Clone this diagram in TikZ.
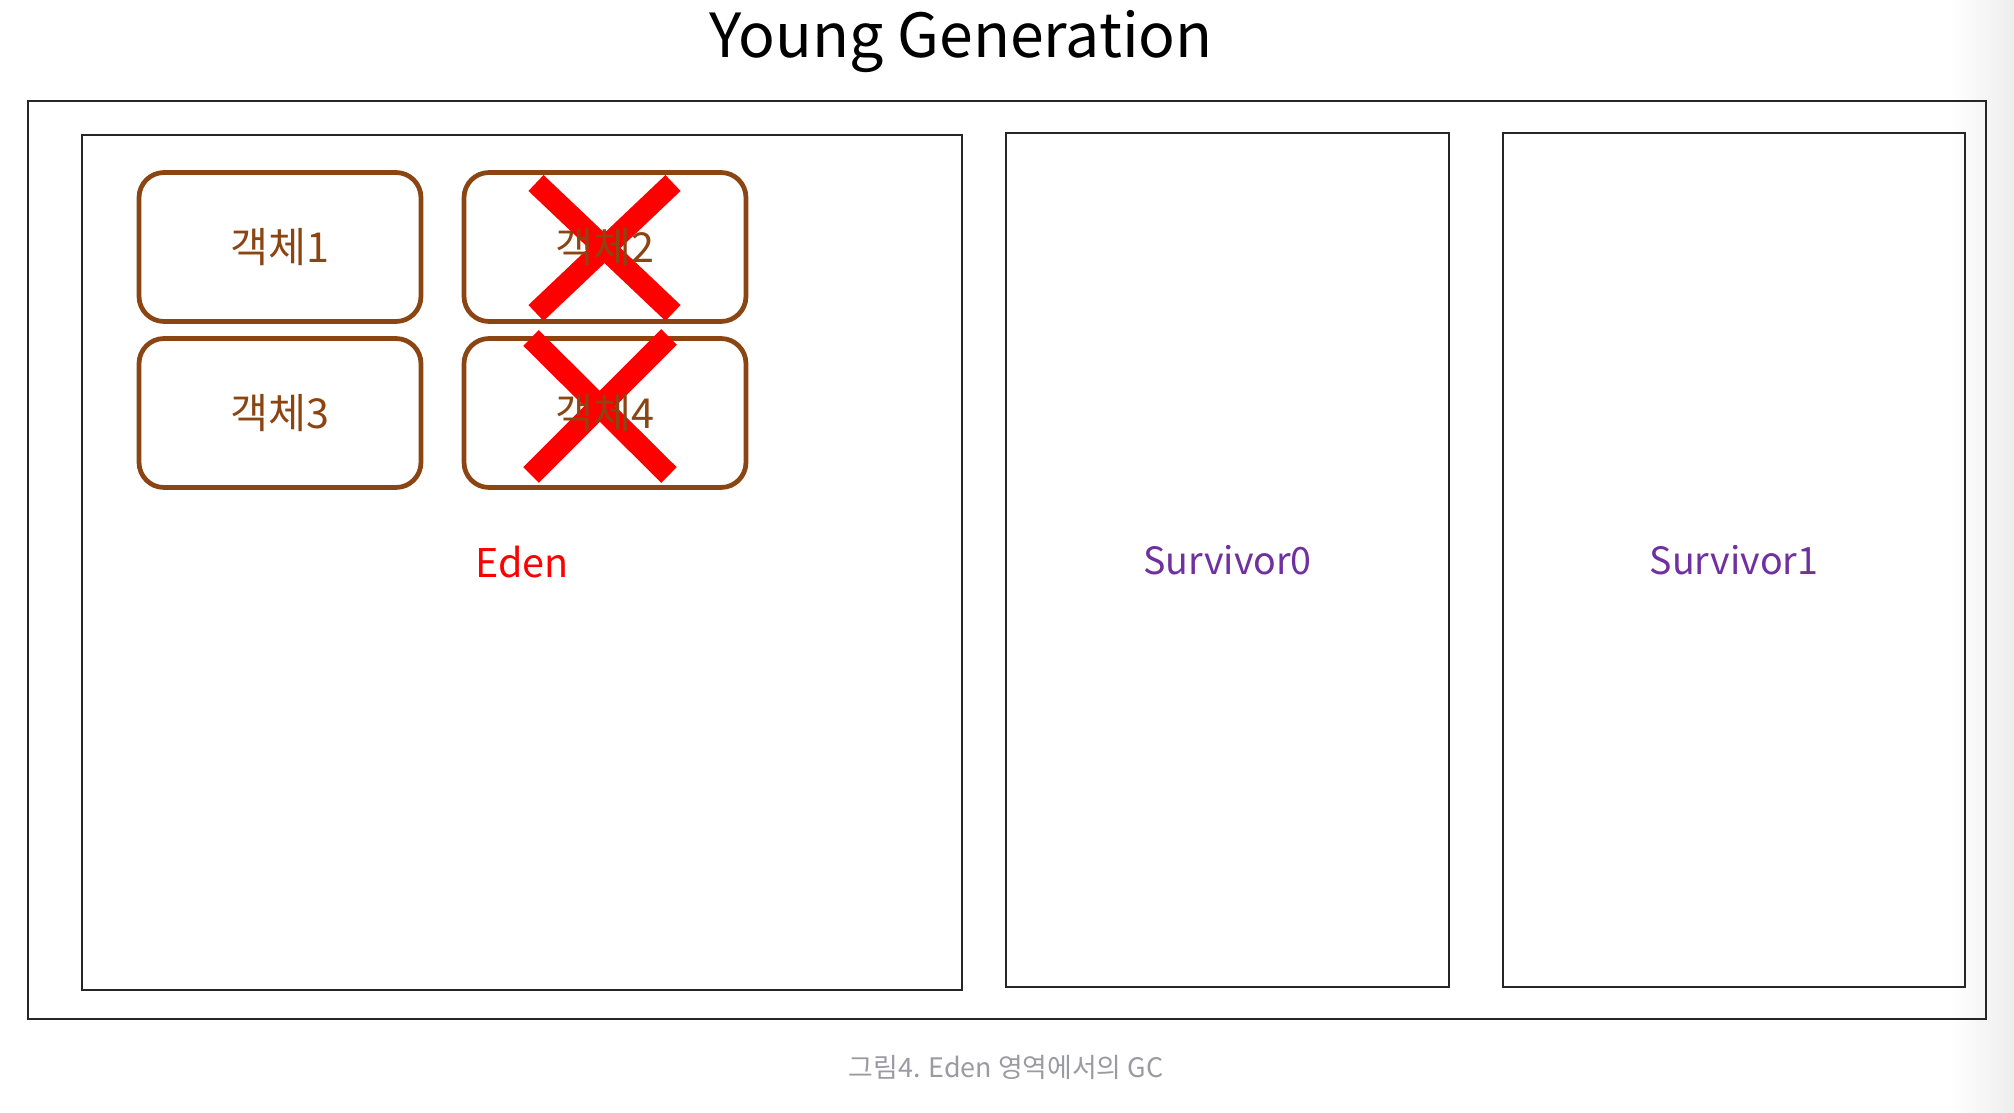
\documentclass[tikz,border=0pt]{standalone}
\usepackage{fontspec}
\setmainfont{Noto Sans CJK KR}
\usetikzlibrary{positioning, calc}
\usepackage{xcolor}
\definecolor{objbrown}{HTML}{8B4513}
\definecolor{survpurple}{HTML}{7030A0}
\definecolor{capgray}{HTML}{9A9AA2}

\tikzset{
  region/.style={draw=black!85, line width=1.1pt, inner sep=0pt},
  objbox/.style={draw=objbrown, line width=2.7pt, rounded corners=0.5cm,
    minimum width=5.64cm, minimum height=2.98cm},
  objtext/.style={text=objbrown, font=\fontsize{23.5pt}{26pt}\selectfont},
  killmark/.style={draw=red, line width=12.5pt, line cap=butt}
}

\begin{document}
\begin{tikzpicture}[x=0.02cm, y=-0.02cm]
  \useasboundingbox (0,0) rectangle (2014,1112);
  \shade[left color=white, right color=black!7] (1950,0) rectangle (2014,1112);

  % Title
  \node[anchor=base, font=\fontsize{34.6pt}{40pt}\selectfont] (title) at (961,57) {Young Generation};

  % Regions
  \node[region, minimum width=39.16cm, minimum height=18.36cm] (young) at (1007,560) {};
  \node[region, minimum width=17.6cm, minimum height=17.1cm, text=red,
    font=\fontsize{22.5pt}{26pt}\selectfont] (eden) at (522,562.5) {Eden};
  \node[region, minimum width=8.86cm, minimum height=17.1cm, text=survpurple,
    font=\fontsize{21.4pt}{26pt}\selectfont] (surv0) at (1227.5,560) {Survivor0};
  \node[region, minimum width=9.24cm, minimum height=17.1cm, text=survpurple,
    font=\fontsize{21.4pt}{26pt}\selectfont] (surv1) at (1734,560) {Survivor1};

  % Objects
  \node[objbox] (obj1) at (280,247) {};
  \node[objbox] (obj2) at (605,247) {};
  \node[objbox] (obj3) at (280,413) {};
  \node[objbox] (obj4) at (605,413) {};

  % Removed objects
  \draw[killmark] ($(obj2.center)+(-69,-64)$) -- ($(obj2.center)+(68,66)$);
  \draw[killmark] ($(obj2.center)+(68,-64)$) -- ($(obj2.center)+(-69,66)$);
  \draw[killmark] ($(obj4.center)+(-74,-75)$) -- ($(obj4.center)+(64,62)$);
  \draw[killmark] ($(obj4.center)+(64,-76)$) -- ($(obj4.center)+(-74,62)$);

  \node[objtext] (name1) at (obj1) {객체1};
  \node[objtext] (name2) at (obj2) {객체2};
  \node[objtext] (name3) at (obj3) {객체3};
  \node[objtext] (name4) at (obj4) {객체4};

  % Caption
  \node[text=capgray, font=\fontsize{15.3pt}{18pt}\selectfont] (caption) at (1006,1067) {그림4. Eden 영역에서의 GC};
\end{tikzpicture}
\end{document}
